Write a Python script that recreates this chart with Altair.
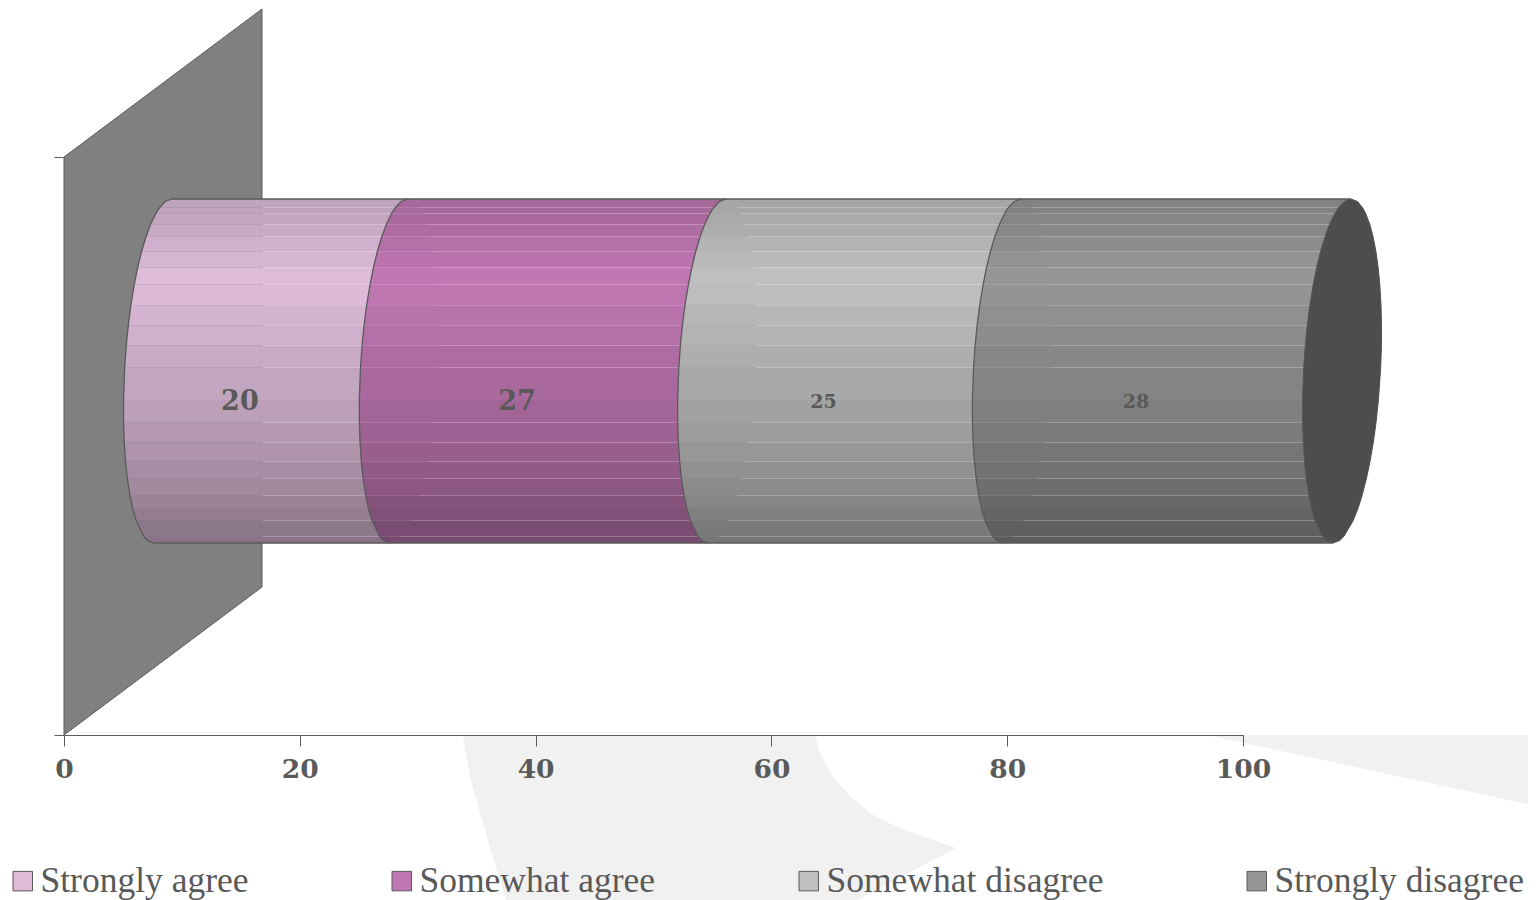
import math
import altair as alt
import pandas as pd

# ---- chart values -------------------------------------------------------
series = ["Strongly agree", "Somewhat agree", "Somewhat disagree", "Strongly disagree"]
values = [20, 27, 25, 28]
swatch_colors = ["#ddbbd9", "#c077b3", "#bfbfbf", "#969696"]
x_ticks = [0, 20, 40, 60, 80, 100]

# ---- frame --------------------------------------------------------------
PX_LEFT, PX_X100, PX_TOP, PX_BOTTOM = 64.0, 1243.0, 157.0, 735.0
W, H = PX_X100 - PX_LEFT, PX_BOTTOM - PX_TOP
ux = lambda px: (px - PX_LEFT) / W * 100
uy = lambda py: (PX_BOTTOM - py) / H

TEXT = "#595959"
LINE = "#5a5a5a"
SERIF_BOLD = "DejaVu Serif"
SERIF = "Liberation Serif"

# 3D look: depth offset, ellipse of the cylinder section
DEPTH_X, DEPTH_Y = ux(PX_LEFT + 198), 148.0 / H
START = DEPTH_X / 2
CY_PX, B_PX, A_PX, SKEW_PX = 371.0, 172.0, 38.5, 9.0

# cylinder facets: edges in pixel rows, shade of each facet
edges = [199, 207.5, 213.5, 224.5, 236.5, 251.5, 267.5, 284.5, 305.2, 325.2, 345.5, 367.5,
         400, 422.5, 442.5, 461.5, 478.5, 495.4, 508, 520.5, 536.5, 543]
shades = [.87, .87, .89, .91, .94, .97, 1.0, .99, .96, .94, .91, .88,
          .85, .82, .79, .76, .73, .70, .67, .64, .62]
rim_points = [201.5, 540.5]  # extra outline vertices that round the corners


def shade(hex_color, f):
    r, g, b = (int(hex_color[i:i + 2], 16) for i in (1, 3, 5))
    return "#%02x%02x%02x" % (round(r * f), round(g * f), round(b * f))


def arc(center_u, py, side):
    s = max(-1.0, min(1.0, (py - CY_PX) / B_PX))
    return center_u + (side * A_PX * math.sqrt(1 - s * s) - SKEW_PX * s) / W * 100


# ---- derived tables -----------------------------------------------------
starts, c = [], START
for v in values:
    starts.append(c)
    c += v
END = c

profile = sorted(edges + rim_points)
band_rows, outline_rows, label_rows = [], [], []
for i, (v, st, col) in enumerate(zip(values, starts, swatch_colors)):
    en = st + v
    for k, f in enumerate(shades):
        for py in [p for p in profile if edges[k] <= p <= edges[k + 1]]:
            band_rows.append(dict(id=f"{i:02d}-{k:02d}", y=uy(py), x=arc(st, py, -1),
                                  x2=arc(en, py, 1), fill=shade(col, f)))
    n = 0
    outline_rows.append(dict(seg=i, n=n, x=arc(en, edges[0], -1), y=uy(edges[0])))
    for py in profile:
        n += 1
        outline_rows.append(dict(seg=i, n=n, x=arc(st, py, -1), y=uy(py)))
    outline_rows.append(dict(seg=i, n=n + 1, x=arc(en, edges[-1], -1), y=uy(edges[-1])))
    label_rows.append(dict(x=st + v / 2 - 3.48, y=uy(402), label=str(v),
                           size=27 if v in (20, 27) else 19))

cap_df = pd.DataFrame([dict(y=uy(p), x=arc(END, p, -1), x2=arc(END, p, 1)) for p in profile])
wall_df = pd.DataFrame({"x": [0, DEPTH_X], "y": [0, DEPTH_Y], "y2": [1, 1 + DEPTH_Y]})

# pale watermark at the foot of the page
swoosh_px = [(735, 463, 815), (750, 465, 819), (765, 468, 826), (777, 470, 833), (795, 475, 849),
             (813, 480, 870), (823, 483, 889), (833, 486, 913), (848, 490, 956), (900, 506, 858)]
swoosh_df = pd.DataFrame([dict(y=uy(a), x=ux(b), x2=ux(c_)) for a, b, c_ in swoosh_px])
wedge_df = pd.DataFrame([dict(x=ux(1207), y=uy(735), y2=uy(735)),
                         dict(x=ux(1536), y=uy(806), y2=uy(735))])

# ---- scales and layers --------------------------------------------------
xs = alt.Scale(domain=[0, 100], nice=False, zero=False)
ys = alt.Scale(domain=[0, 1], nice=False, zero=False)
X = alt.X("x:Q", scale=xs, title=None, axis=alt.Axis(
    values=x_ticks, grid=False, tickSize=11, tickColor=LINE, domainColor=LINE, zindex=1,
    labelFont=SERIF_BOLD, labelFontWeight="bold", labelFontSize=26.5, labelColor=TEXT,
    labelPadding=10, labelFlush=False, labelOverlap=False))
Y = alt.Y("y:Q", scale=ys, title=None, axis=alt.Axis(
    values=[0, 1], grid=False, labels=False, domain=False, tickSize=10, tickColor=LINE))

swoosh = alt.Chart(swoosh_df).mark_area(orient="horizontal", color="#f1f1f1").encode(x=X, x2="x2:Q", y=Y)
wedge = alt.Chart(wedge_df).mark_area(color="#f1f1f1").encode(x=X, y=Y, y2="y2:Q")
wall = alt.Chart(wall_df).mark_area(fill="#808080", stroke=LINE, strokeWidth=1).encode(x=X, y=Y, y2="y2:Q")
bands = alt.Chart(pd.DataFrame(band_rows)).mark_area(orient="horizontal").encode(
    x=X, x2="x2:Q", y=Y, color=alt.Color("fill:N", scale=None), detail="id:N")
outlines = alt.Chart(pd.DataFrame(outline_rows)).mark_line(color=LINE, strokeWidth=1.3).encode(
    x=X, y=Y, detail="seg:N", order="n:Q")
cap = alt.Chart(cap_df).mark_area(orient="horizontal", fill="#4d4d4d", stroke="#555555", strokeWidth=1).encode(
    x=X, x2="x2:Q", y=Y)
labels = alt.Chart(pd.DataFrame(label_rows)).mark_text(
    font=SERIF_BOLD, fontWeight="bold", color=TEXT, baseline="middle").encode(
    x=X, y=Y, text="label:N", size=alt.Size("size:Q", scale=None))
legend_df = pd.DataFrame({"series": series, "x": [0] * 4, "y": [0] * 4})
legend_layer = alt.Chart(legend_df).mark_square(size=0).encode(
    x=X, y=Y,
    fill=alt.Fill("series:N", sort=series, scale=alt.Scale(domain=series, range=swatch_colors),
                  legend=alt.Legend(
                      title=None, orient="none", legendX=-59, legendY=706, direction="horizontal",
                      columns=4, gridAlign="each", columnPadding=135, symbolType="square",
                      symbolSize=380, symbolStrokeColor=LINE, symbolStrokeWidth=1, symbolOpacity=1,
                      labelFont=SERIF, labelFontSize=35.5, labelColor=TEXT, labelLimit=500, labelOffset=0,
                      padding=0)))

chart = alt.layer(swoosh, wedge, wall, bands, outlines, cap, labels, legend_layer).properties(
    width=W, height=H, autosize=alt.AutoSizeParams(type="none"),
    padding={"left": PX_LEFT - 8, "top": PX_TOP - 8, "right": 1528 - PX_X100, "bottom": 900 - PX_BOTTOM},
    background="white",
).configure_view(stroke=None)

chart.save("out.html", embed_options={"renderer": "svg", "actions": False})
